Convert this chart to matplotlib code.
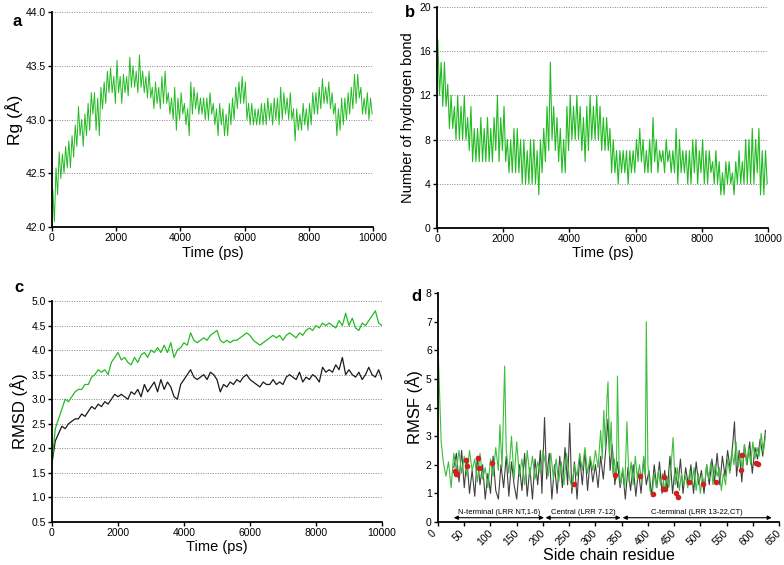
import numpy as np
import matplotlib
matplotlib.use("Agg")
import matplotlib.pyplot as plt
from matplotlib.transforms import ScaledTranslation

plt.rcParams["font.family"] = ["Liberation Sans", "DejaVu Sans"]

# time axis, 100 ps sampling
time_ps = np.arange(0, 10001, 100)

# panel a: radius of gyration (A), lowest and highest value in each 100 ps bin
rg_high = [42.35, 42.55, 42.70, 42.68, 42.75, 42.80, 42.85, 42.95, 43.12, 43.00,
           43.05, 43.15, 43.25, 43.25, 43.20, 43.30, 43.35, 43.45, 43.48, 43.40,
           43.55, 43.40, 43.42, 43.40, 43.58, 43.50, 43.45, 43.60, 43.45, 43.40,
           43.45, 43.30, 43.35, 43.30, 43.40, 43.45, 43.25, 43.20, 43.30, 43.20,
           43.25, 43.15, 43.10, 43.35, 43.30, 43.25, 43.20, 43.20, 43.20, 43.25,
           43.15, 43.10, 43.15, 43.10, 43.05, 43.15, 43.20, 43.30, 43.35, 43.40,
           43.35, 43.15, 43.15, 43.10, 43.10, 43.15, 43.15, 43.20, 43.15, 43.20,
           43.20, 43.30, 43.25, 43.20, 43.25, 43.10, 43.10, 43.05, 43.15, 43.10,
           43.15, 43.25, 43.25, 43.30, 43.38, 43.30, 43.35, 43.25, 43.15, 43.10,
           43.20, 43.20, 43.25, 43.30, 43.42, 43.42, 43.30, 43.20, 43.25, 43.20]
rg_low = [42.05, 42.30, 42.45, 42.50, 42.55, 42.55, 42.65, 42.75, 42.85, 42.75,
          42.85, 42.90, 43.05, 42.90, 42.85, 43.10, 43.15, 43.25, 43.25, 43.15,
          43.25, 43.15, 43.25, 43.22, 43.30, 43.30, 43.25, 43.30, 43.25, 43.20,
          43.20, 43.10, 43.15, 43.10, 43.15, 43.15, 43.05, 43.00, 42.90, 43.00,
          43.05, 42.95, 42.85, 43.05, 43.10, 43.05, 43.05, 43.00, 43.00, 43.05,
          42.95, 42.85, 42.95, 42.85, 42.85, 42.95, 43.00, 43.10, 43.15, 43.15,
          43.00, 42.95, 42.95, 42.95, 42.95, 42.95, 42.95, 43.00, 42.95, 43.00,
          42.95, 43.00, 43.05, 43.00, 43.00, 42.80, 42.90, 42.90, 42.95, 42.90,
          42.95, 43.05, 43.05, 43.10, 43.15, 43.15, 43.10, 43.05, 42.85, 42.90,
          42.95, 43.00, 43.05, 43.10, 43.15, 43.20, 43.05, 43.05, 43.00, 43.05]

# panel b: hydrogen bond count, highest and lowest value in each 100 ps bin
hb_high = [17, 15, 15, 13, 12, 11, 12, 11, 12, 10,
           11, 9, 9, 10, 9, 10, 9, 10, 12, 10,
           11, 8, 8, 9, 9, 8, 8, 7, 8, 8,
           7, 8, 9, 11, 15, 11, 10, 9, 8, 11,
           12, 11, 12, 11, 10, 11, 12, 11, 12, 11,
           10, 10, 9, 8, 7, 7, 7, 7, 7, 7,
           8, 9, 8, 7, 8, 10, 8, 7, 7, 8,
           7, 7, 9, 8, 7, 7, 7, 8, 8, 7,
           8, 7, 7, 6, 7, 6, 5, 6, 6, 5,
           6, 7, 6, 8, 8, 9, 8, 9, 7, 7]
hb_low = [12, 11, 11, 9, 9, 8, 8, 8, 8, 7,
          6, 6, 6, 6, 6, 6, 6, 7, 6, 7,
          6, 5, 5, 5, 5, 4, 4, 4, 4, 4,
          3, 5, 6, 7, 8, 7, 6, 5, 5, 7,
          8, 8, 8, 7, 6, 7, 8, 8, 8, 7,
          7, 7, 5, 5, 4, 5, 5, 4, 5, 5,
          6, 6, 5, 5, 5, 6, 5, 6, 5, 6,
          5, 5, 4, 5, 5, 4, 4, 5, 4, 5,
          4, 4, 5, 4, 4, 3, 3, 4, 4, 3,
          4, 4, 4, 4, 4, 4, 5, 3, 3, 4]

# panel c: RMSD (A)
rmsd_green = [1.70, 2.40, 2.60, 2.80, 3.00, 2.95, 3.05, 3.15, 3.20, 3.20,
              3.30, 3.30, 3.45, 3.50, 3.60, 3.55, 3.60, 3.50, 3.75, 3.85,
              3.95, 3.80, 3.85, 3.75, 3.70, 3.85, 3.75, 3.90, 3.95, 3.85,
              4.00, 3.95, 4.05, 3.95, 4.10, 3.95, 4.15, 3.85, 4.00, 4.05,
              4.15, 4.10, 4.35, 4.20, 4.15, 4.20, 4.25, 4.20, 4.30, 4.35,
              4.40, 4.20, 4.15, 4.20, 4.15, 4.20, 4.20, 4.25, 4.30, 4.35,
              4.30, 4.20, 4.15, 4.10, 4.15, 4.20, 4.25, 4.30, 4.25, 4.30,
              4.20, 4.30, 4.35, 4.30, 4.25, 4.35, 4.30, 4.40, 4.45, 4.40,
              4.50, 4.45, 4.55, 4.50, 4.55, 4.50, 4.45, 4.60, 4.50, 4.75,
              4.50, 4.65, 4.45, 4.40, 4.55, 4.50, 4.60, 4.70, 4.80, 4.55,
              4.50]
rmsd_black = [1.70, 2.15, 2.30, 2.45, 2.40, 2.50, 2.55, 2.60, 2.60, 2.70,
              2.65, 2.75, 2.85, 2.80, 2.90, 2.85, 2.95, 2.90, 3.00, 3.10,
              3.05, 3.10, 3.05, 3.00, 3.15, 3.10, 3.20, 3.05, 3.30, 3.15,
              3.25, 3.35, 3.15, 3.40, 3.20, 3.35, 3.25, 3.05, 3.00, 3.30,
              3.40, 3.50, 3.60, 3.45, 3.40, 3.45, 3.50, 3.40, 3.55, 3.50,
              3.40, 3.15, 3.30, 3.25, 3.35, 3.30, 3.40, 3.35, 3.45, 3.50,
              3.40, 3.35, 3.30, 3.25, 3.35, 3.30, 3.30, 3.40, 3.30, 3.35,
              3.30, 3.45, 3.50, 3.45, 3.40, 3.55, 3.35, 3.45, 3.40, 3.50,
              3.45, 3.35, 3.65, 3.55, 3.60, 3.55, 3.70, 3.60, 3.85, 3.50,
              3.60, 3.50, 3.45, 3.55, 3.40, 3.50, 3.65, 3.50, 3.45, 3.60,
              3.40]

# panel d: RMSF per side chain residue (A)
rmsf_green_res = [0, 3, 6, 10, 15, 20, 25, 30, 35, 40, 45, 50, 55, 60, 65, 70,
                  75, 80, 85, 90, 95, 100, 105, 110, 115, 118, 122, 125, 127,
                  130, 135, 140, 145, 150, 155, 160, 165, 170, 175, 180, 185,
                  190, 195, 200, 205, 210, 215, 220, 225, 230, 235, 240, 245,
                  250, 255, 260, 265, 270, 275, 280, 285, 290, 295, 300, 305,
                  310, 313, 316, 319, 322, 324, 327, 330, 333, 336, 340, 342,
                  345, 348, 352, 356, 360, 364, 368, 372, 376, 380, 384, 388,
                  392, 395, 397, 400, 404, 408, 412, 416, 420, 424, 428, 432,
                  436, 440, 444, 448, 452, 456, 460, 464, 468, 472, 476, 480,
                  484, 488, 492, 496, 500, 504, 508, 512, 516, 520, 524, 528,
                  532, 536, 540, 544, 548, 552, 556, 560, 564, 568, 572, 576,
                  580, 584, 588, 592, 596, 600, 604, 608, 612, 616, 620, 624]
rmsf_green = [6.15, 4.5, 2.8, 2.1, 1.6, 2.1, 1.2, 2.4, 1.8, 2.5, 1.7, 2.3, 1.6,
              2.5, 1.8, 2.2, 1.4, 2.4, 1.5, 1.9, 1.2, 2.2, 1.6, 2.6, 1.8, 3.4,
              1.9, 4.0, 5.45, 2.5, 1.7, 3.0, 1.5, 2.8, 1.6, 2.2, 1.3, 2.5, 1.6,
              2.3, 1.5, 2.1, 1.7, 2.5, 2.0, 1.6, 2.4, 1.5, 2.2, 1.4, 2.1, 1.3,
              2.4, 1.6, 1.2, 2.0, 1.6, 2.4, 1.8, 2.6, 1.7, 2.3, 1.8, 2.5, 1.9,
              3.2, 2.2, 3.9, 2.6, 4.3, 4.9, 2.3, 3.5, 1.7, 2.2, 1.5, 5.1, 2.0,
              1.3, 1.9, 1.2, 3.5, 1.4, 2.1, 1.3, 2.3, 1.5, 2.0, 1.4, 2.3, 1.6,
              7.0, 2.0, 1.1, 0.9, 1.7, 1.2, 1.8, 1.3, 1.7, 1.1, 1.6, 1.2, 1.9,
              2.95, 1.3, 1.9, 1.1, 1.7, 1.3, 1.6, 1.2, 1.8, 1.3, 1.9, 1.1, 1.7,
              1.0, 1.6, 1.3, 2.0, 1.5, 2.1, 1.3, 2.0, 1.6, 1.9, 1.1, 1.7, 1.3,
              2.2, 1.7, 2.5, 2.0, 2.8, 1.9, 2.4, 1.8, 2.7, 2.0, 2.6, 2.0, 2.8,
              2.2, 2.6, 2.3, 3.1, 2.4, 3.0]
rmsf_black_res = [30, 35, 40, 45, 50, 55, 60, 65, 70, 75, 80, 85, 90, 95, 100,
                  105, 110, 115, 120, 125, 130, 135, 140, 145, 150, 155, 160,
                  165, 170, 175, 180, 185, 190, 195, 198, 203, 207, 212, 217,
                  222, 227, 232, 237, 242, 247, 251, 255, 260, 265, 270, 275,
                  280, 285, 290, 295, 300, 305, 310, 315, 320, 324, 328, 332,
                  337, 342, 347, 352, 357, 362, 367, 372, 377, 382, 387, 392,
                  397, 402, 407, 412, 417, 422, 427, 432, 437, 442, 447, 452,
                  457, 462, 467, 472, 477, 482, 487, 492, 497, 502, 507, 512,
                  517, 522, 527, 532, 537, 542, 547, 552, 557, 562, 565, 569,
                  574, 579, 584, 589, 594, 599, 604, 609, 614, 619, 624]
rmsf_black = [1.9, 2.4, 1.4, 2.5, 1.2, 2.2, 1.0, 1.8, 0.9, 2.3, 1.3, 2.0, 0.8,
              1.7, 1.0, 2.3, 1.1, 0.8, 2.0, 1.2, 2.3, 0.9, 2.1, 1.3, 0.8, 2.0,
              1.1, 2.4, 0.9, 1.9, 0.8, 2.2, 1.3, 2.5, 1.0, 3.65, 1.5, 2.4, 0.8,
              2.0, 1.0, 2.3, 1.2, 2.6, 1.3, 3.45, 1.0, 2.1, 0.8, 2.3, 1.3, 2.5,
              1.1, 2.2, 1.4, 2.0, 1.2, 2.3, 1.5, 2.6, 3.6, 1.8, 2.7, 1.3, 2.1,
              1.2, 1.8, 0.8, 1.9, 1.1, 2.0, 0.9, 1.8, 1.0, 2.2, 1.3, 1.8, 0.9,
              2.0, 1.2, 2.1, 1.0, 1.8, 1.1, 2.3, 1.0, 1.9, 1.2, 2.2, 1.0, 1.9,
              1.3, 2.0, 1.0, 2.1, 1.3, 1.8, 1.0, 2.0, 1.3, 2.2, 1.4, 2.4, 1.3,
              2.3, 1.6, 2.5, 1.8, 2.8, 3.5, 1.6, 2.5, 1.4, 2.7, 2.0, 2.8, 1.7,
              2.6, 2.2, 2.9, 2.3, 3.2]
mark_res = [32, 34, 36, 54, 56, 76, 79, 103, 259, 337, 385, 409, 431, 429, 433,
            454, 457, 479, 505, 529, 578, 579, 607, 609]
mark_val = [1.79, 1.66, 1.69, 2.15, 1.94, 2.24, 1.87, 2.07, 1.33, 1.63, 1.62,
            0.98, 1.58, 1.16, 1.14, 1.02, 0.88, 1.41, 1.33, 1.41, 1.80, 2.35,
            2.06, 2.01]
region_names = ["N-terminal (LRR NT,1-6)", "Central (LRR 7-12)",
                "C-terminal (LRR 13-22,CT)"]
region_start = [30, 205, 352]
region_end = [202, 348, 636]

GREEN = "#22bb22"
GRID = dict(color="#888888", linestyle=(0, (1, 1.5)), linewidth=0.7, zorder=0)


def style_axes(ax):
    for side in ("top", "right"):
        ax.spines[side].set_visible(False)
    for side in ("left", "bottom"):
        ax.spines[side].set_linewidth(1.3)
    ax.tick_params(direction="out", length=3, width=1, labelsize=7.5, pad=1.5)


def zigzag(first, second):
    # alternate the two envelope values inside each 100 ps bin
    t = np.column_stack([time_ps[:-1] + 25, time_ps[:-1] + 75]).ravel()
    v = np.column_stack([first, second]).ravel()
    return t, v


fig = plt.figure(figsize=(7.84, 5.65), dpi=100)

# a
ax = fig.add_axes([0.0663, 0.5982, 0.4094, 0.3805])
ax.plot(*zigzag(rg_high, rg_low), color=GREEN, lw=0.7)
ax.set_xlim(0, 10000)
ax.set_ylim(42.0, 44.0)
ticks_a = np.arange(42.0, 44.01, 0.5)
ax.set_yticks(ticks_a)
ax.set_yticklabels([f"{v:.1f}" for v in ticks_a])
ax.set_xticks(np.arange(0, 10001, 2000))
for v in ticks_a[1:]:
    ax.axhline(v, **GRID)
ax.set_xlabel("Time (ps)", fontsize=10.5, labelpad=2)
ax.set_ylabel("Rg (Å)", fontsize=12.5, labelpad=2)
style_axes(ax)
fig.text(0.016, 0.962, "a", fontsize=12, fontweight="bold", va="center")

# b
ax = fig.add_axes([0.5574, 0.5965, 0.4222, 0.3912])
ax.plot(*zigzag(hb_high, hb_low), color=GREEN, lw=0.8)
ax.set_xlim(0, 10000)
ax.set_ylim(0, 20)
ax.set_yticks(np.arange(0, 21, 4))
ax.set_xticks(np.arange(0, 10001, 2000))
for v in np.arange(4, 21, 4):
    ax.axhline(v, **GRID)
ax.set_xlabel("Time (ps)", fontsize=10.5, labelpad=1)
ax.set_ylabel("Number of hydrogen bond", fontsize=10.5, labelpad=3)
style_axes(ax)
fig.text(0.516, 0.978, "b", fontsize=12, fontweight="bold", va="center")

# c
ax = fig.add_axes([0.0663, 0.0761, 0.4209, 0.3912])
ax.plot(time_ps, rmsd_black, color="#1a1a1a", lw=0.9)
ax.plot(time_ps, rmsd_green, color=GREEN, lw=0.9)
ax.set_xlim(0, 10000)
ax.set_ylim(0.5, 5.0)
ticks_c = np.arange(0.5, 5.01, 0.5)
ax.set_yticks(ticks_c)
ax.set_yticklabels([f"{v:.1f}" for v in ticks_c])
ax.set_xticks(np.arange(0, 10001, 2000))
for v in ticks_c[1:]:
    ax.axhline(v, **GRID)
ax.set_xlabel("Time (ps)", fontsize=10.5, labelpad=1)
ax.set_ylabel("RMSD (Å)", fontsize=12, labelpad=2)
style_axes(ax)
fig.text(0.018, 0.492, "c", fontsize=12, fontweight="bold", va="center")

# d
ax = fig.add_axes([0.5587, 0.0761, 0.435, 0.4053])
ax.plot(rmsf_black_res, rmsf_black, color="#404040", lw=0.8)
ax.plot(rmsf_green_res, rmsf_green, color="#3cbf3c", lw=0.8)
ax.plot(mark_res, mark_val, "o", color="#d02020", ms=3, zorder=5)
for name, r0, r1 in zip(region_names, region_start, region_end):
    ax.annotate("", xy=(r0, 0.15), xytext=(r1, 0.15),
                arrowprops=dict(arrowstyle="<|-|>", color="black", lw=0.8,
                                mutation_scale=6, shrinkA=0, shrinkB=0))
    ax.text((r0 + r1) / 2, 0.22, name, fontsize=5.5, ha="center", va="bottom")
ax.set_xlim(0, 650)
ax.set_ylim(0, 8)
ax.set_yticks(np.arange(0, 9, 1))
ax.set_xticks(np.arange(0, 651, 50))
ax.set_xlabel("Side chain residue", fontsize=11.5, labelpad=0)
ax.set_ylabel("RMSF (Å)", fontsize=12, labelpad=2)
style_axes(ax)
ax.tick_params(axis="x", labelrotation=45)
shift = ScaledTranslation(-4 / 72, 0, fig.dpi_scale_trans)
for lbl in ax.get_xticklabels():
    lbl.set_transform(lbl.get_transform() + shift)
fig.text(0.525, 0.476, "d", fontsize=12, fontweight="bold", va="center")

fig.savefig("out.png", dpi=100)
